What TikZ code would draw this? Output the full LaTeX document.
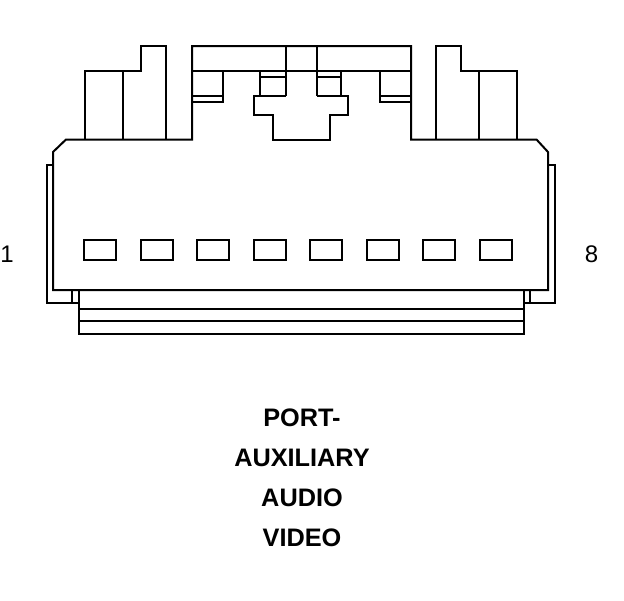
\documentclass[tikz,border=0pt]{standalone}
\usepackage{fontspec}
\setmainfont{Liberation Sans}
\begin{document}
\begin{tikzpicture}[x = 1pt, y = -1pt, line join = miter,
    outline/.style = { draw, line width = 2pt },
    pinbox/.style = { rectangle, draw, line width = 2pt, minimum width = 32pt,
      minimum height = 20pt, inner sep = 0pt, outer sep = 0pt },
    title/.style = { font = \fontsize{25.3}{25.3}\selectfont\bfseries, inner sep = 0pt },
    pinlabel/.style = { font = \fontsize{24}{24}\selectfont, inner sep = 0pt }]
  \useasboundingbox (0,0) rectangle (624,600);
  % body
  \draw [outline] (548,290) -- (53,290) -- (53,152) -- (66,139.5) -- (192,139.5) -- (192,46)
    -- (411,46) -- (411,139.5) -- (536.5,139.5) -- (548,152) -- cycle;
  \draw [outline] (285.5,96) -- (254,96) -- (254,115) -- (273,115) -- (273,139.5)
    -- (329.5,139.5) -- (329.5,115) -- (348,115) -- (348,96) -- (317,96);
  % top bar
  \draw [outline] (192,71) -- (411,71);
  \draw [outline] (285.5,46) -- (285.5,96);
  \draw [outline] (317,46) -- (317,96);
  \draw [outline] (260,71) -- (260,96);
  \draw [outline] (341,71) -- (341,96);
  \draw [outline] (260,77) -- (285.5,77);
  \draw [outline] (317,77) -- (341,77);
  \draw [outline] (192,96) -- (222.5,96) (222.5,71) -- (222.5,102) -- (192,102);
  \draw [outline] (411,96) -- (379.5,96) (379.5,71) -- (379.5,102) -- (411,102);
  % latches
  \draw [outline] (85,139.5) -- (85,71) -- (141,71) -- (141,46) -- (166,46) -- (166,139.5);
  \draw [outline] (123,71) -- (123,139.5);
  \draw [outline] (436,139.5) -- (436,46) -- (461,46) -- (461,71) -- (517,71) -- (517,139.5);
  \draw [outline] (479,71) -- (479,139.5);
  % side rails
  \draw [outline] (53,165) -- (47,165) -- (47,303) -- (79,303);
  \draw [outline] (548,165) -- (555,165) -- (555,303) -- (523.5,303);
  \draw [outline] (71.5,290) -- (71.5,303);
  \draw [outline] (530,290) -- (530,303);
  % bottom lip
  \draw [outline] (79,290) -- (79,334) -- (523.5,334) -- (523.5,290);
  \draw [outline] (79,309) -- (523.5,309);
  \draw [outline] (79,321) -- (523.5,321);
  % pins
  \foreach \pinx in {100, 157, 213, 270, 326, 382.5, 439, 495.5} {
    \node [pinbox] (pin\pinx) at (\pinx, 249.5) {};
  }
  \node [pinlabel] (one) at (7,254) {1};
  \node [pinlabel] (eight) at (591.5,254) {8};
  \node [title] (port) at (302,417.5) {PORT-};
  \node [title] (aux) at (302,457.5) {AUXILIARY};
  \node [title] (audio) at (302,497.5) {AUDIO};
  \node [title] (video) at (302,537.5) {VIDEO};
\end{tikzpicture}
\end{document}
